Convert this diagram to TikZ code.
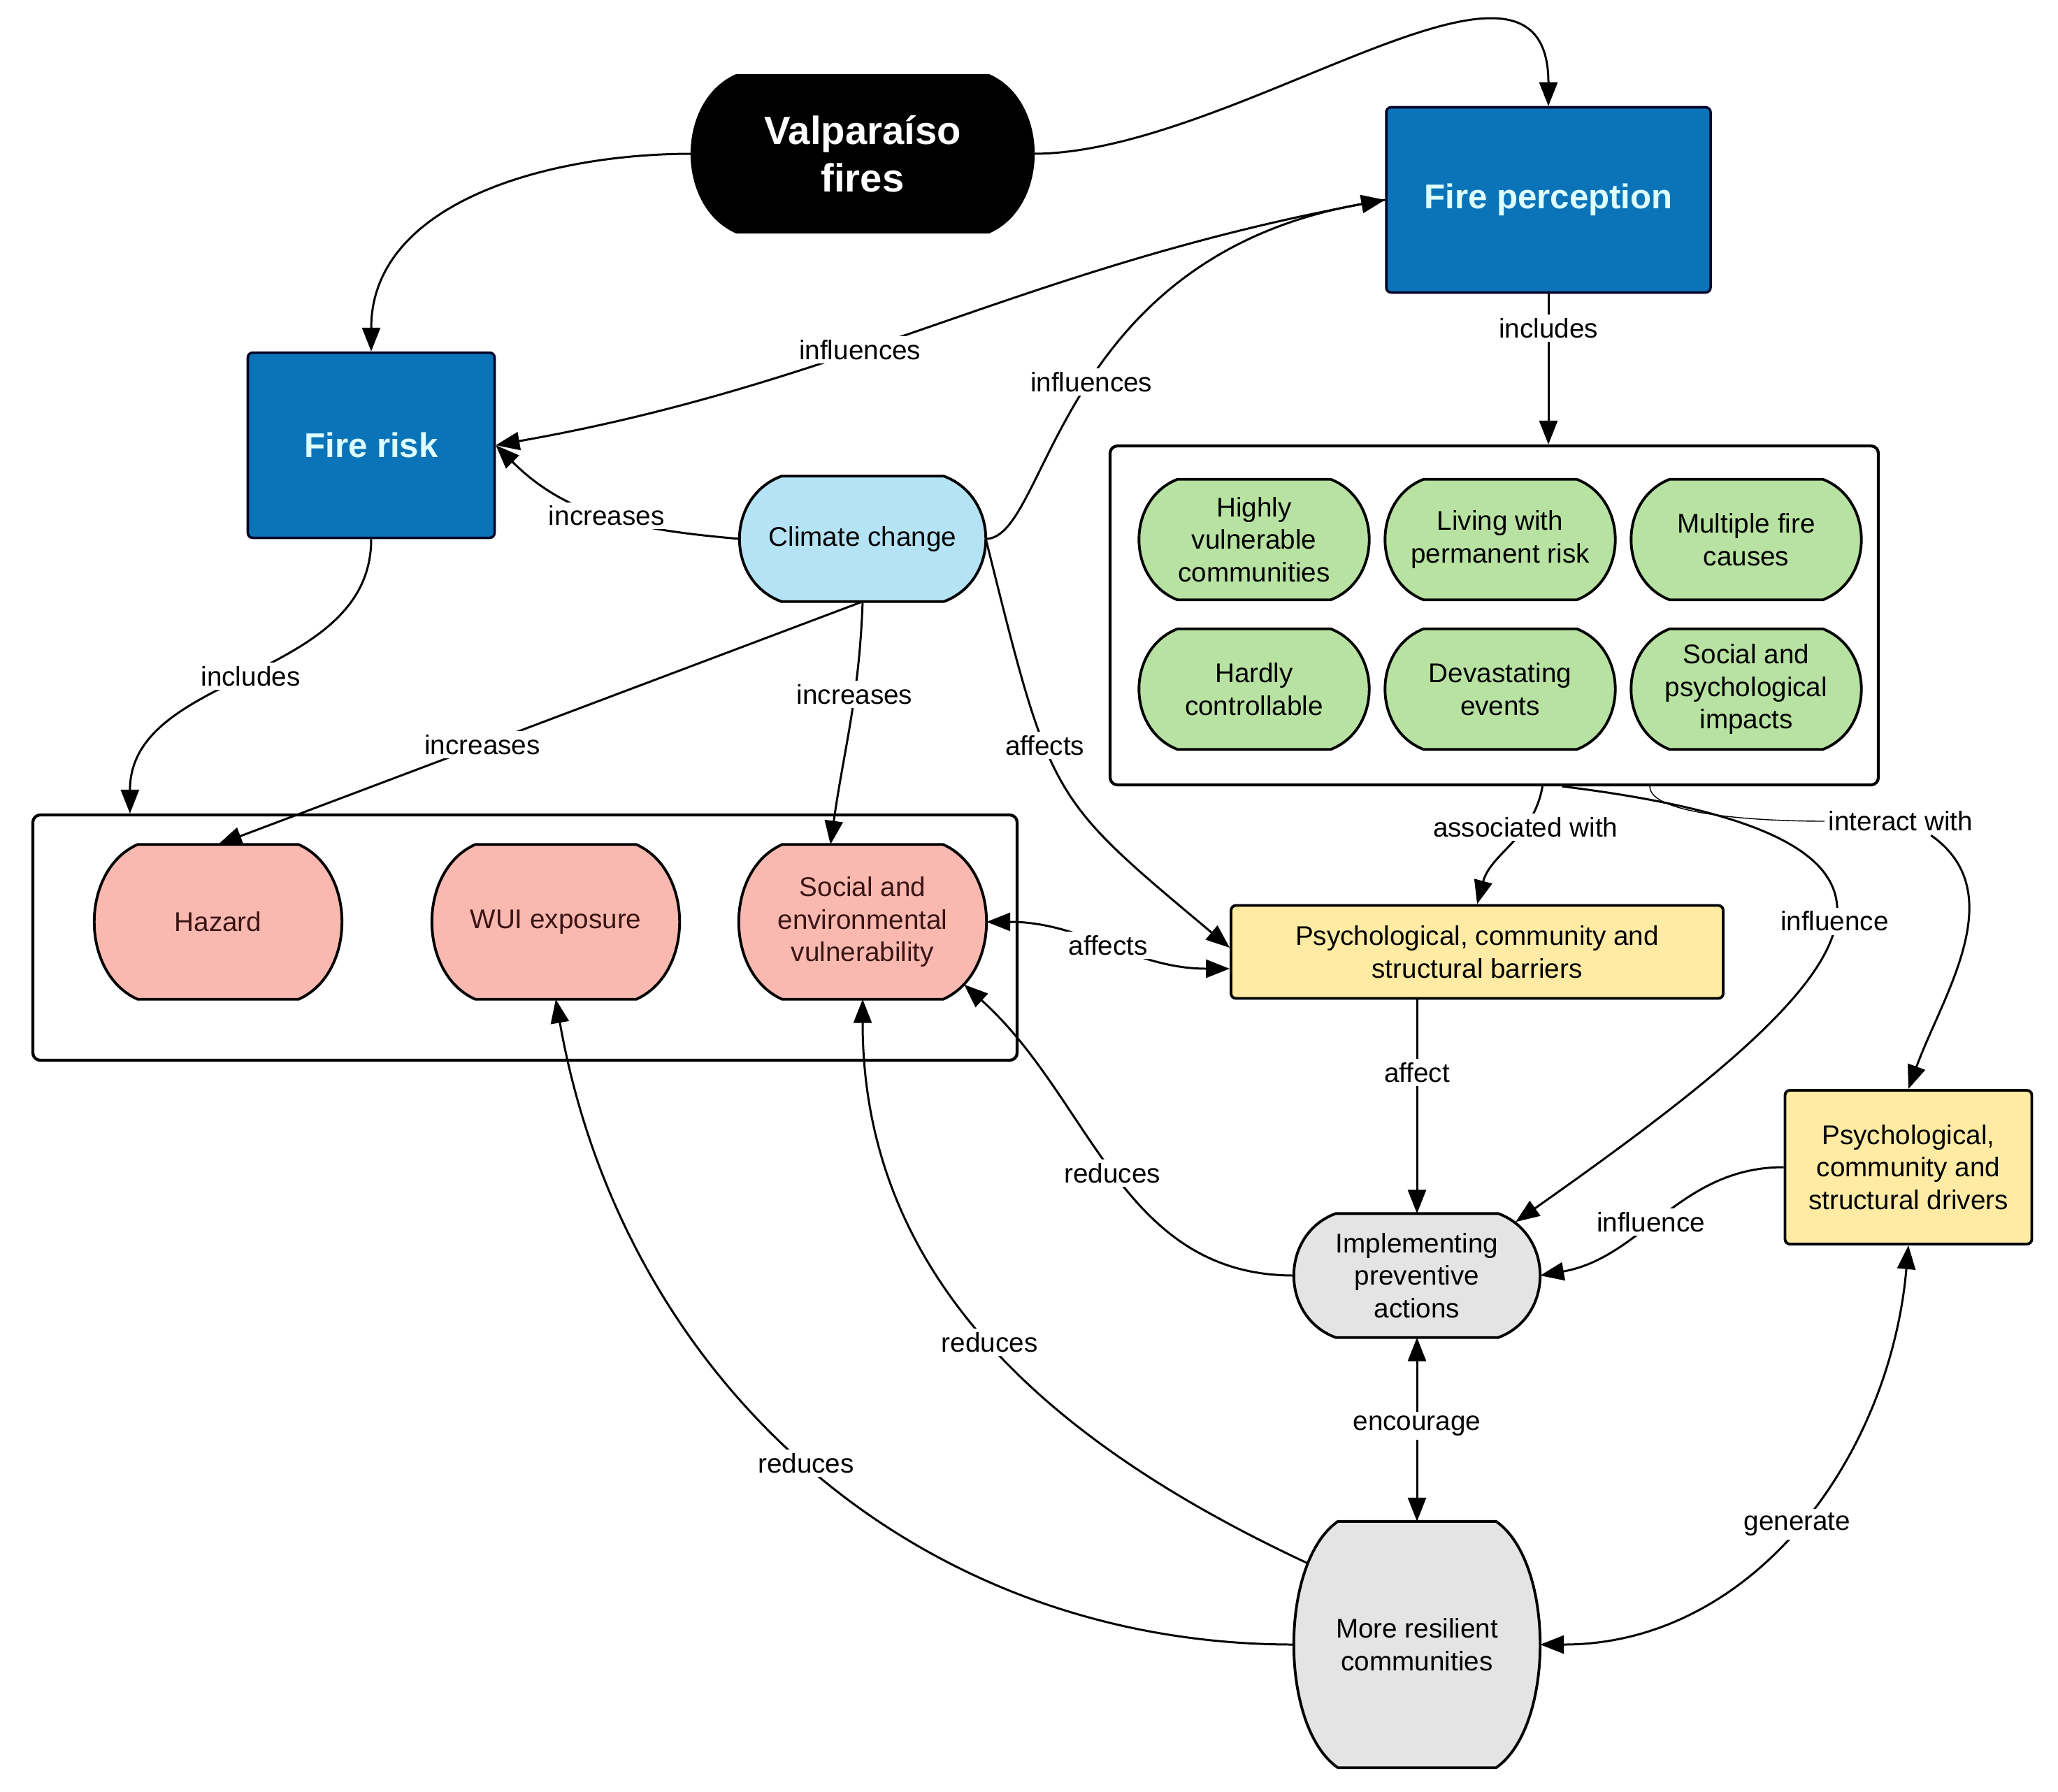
\documentclass[tikz,border=0pt]{standalone}
\usepackage{fontspec}
\setmainfont{Liberation Sans}
\usetikzlibrary{arrows.meta,positioning,calc,backgrounds}

\definecolor{percblue}{HTML}{0B74B8}
\definecolor{perctext}{HTML}{DDFFFF}
\definecolor{climateblue}{HTML}{B4E3F6}
\definecolor{traitgreen}{HTML}{B8E2A2}
\definecolor{factorred}{HTML}{FAB9B0}
\definecolor{factortext}{HTML}{3A1414}
\definecolor{barrieryellow}{HTML}{FFEBA3}
\definecolor{actiongray}{HTML}{E4E4E4}

\begin{document}
\begin{tikzpicture}[
  >={Triangle[length=3.4mm,width=2.6mm]},
  barrel/.style={rectangle, align=center, font=\fontsize{11}{13.3}\selectfont, inner sep=2pt},
  bluebox/.style={rectangle, draw=black!85!blue, line width=1pt, rounded corners=2pt, fill=percblue, text=perctext, font=\fontsize{14}{16}\selectfont\bfseries},
  yellowbox/.style={rectangle, draw, line width=1.1pt, rounded corners=2pt, fill=barrieryellow, align=center, font=\fontsize{11}{13.3}\selectfont},
  group/.style={rectangle, draw, line width=1.2pt, rounded corners=3pt},
  trait/.style={barrel, minimum width=3.28cm, minimum height=1.71cm},
  factor/.style={barrel, text=factortext, minimum width=3.53cm, minimum height=2.20cm},
  outline/.style={draw, line width=1.1pt, line join=round},
  arrow/.style={->, line width=0.85pt},
  twoway/.style={<->, line width=0.85pt},
  lbl/.style={fill=white, inner sep=1.5pt, font=\fontsize{11}{13.3}\selectfont},
]
\useasboundingbox (0,0) rectangle (29.44,-25.63);

% === TOP ===
\node[barrel, text=white, font=\fontsize{16}{19.5}\selectfont\bfseries, minimum width=4.87cm, minimum height=2.23cm] (valp) at (12.34,-2.20) {Valparaíso\\fires};
\node[bluebox, minimum width=4.64cm, minimum height=2.65cm] (perc) at (22.15,-2.86) {Fire perception};
\node[bluebox, minimum width=3.53cm, minimum height=2.65cm] (risk) at (5.31,-6.37) {Fire risk};
\node[barrel, minimum width=3.51cm, minimum height=1.78cm] (climate) at (12.34,-7.71) {Climate change};

% === PERCEPTION GROUP ===
\node[group, minimum width=10.99cm, minimum height=4.85cm] (greenbox) at (21.375,-8.805) {};
\node[trait] (g1) at (17.94,-7.72) {Highly\\vulnerable\\communities};
\node[trait] (g2) at (21.46,-7.72) {Living with\\permanent risk};
\node[trait] (g3) at (24.98,-7.72) {Multiple fire\\causes};
\node[trait] (g4) at (17.94,-9.86) {Hardly\\controllable};
\node[trait] (g5) at (21.46,-9.86) {Devastating\\events};
\node[trait] (g6) at (24.98,-9.86) {Social and\\psychological\\impacts};

% === RISK GROUP ===
\node[group, minimum width=14.08cm, minimum height=3.51cm] (riskbox) at (7.51,-13.415) {};
\node[factor] (hazard) at (3.12,-13.19) {Hazard};
\node[factor] (wui) at (7.95,-13.19) {WUI exposure};
\node[factor] (vuln) at (12.34,-13.19) {Social and\\environmental\\vulnerability};

% === BARRIERS, DRIVERS, ACTIONS ===
\node[yellowbox, minimum width=7.04cm, minimum height=1.33cm] (barriers) at (21.13,-13.62) {Psychological, community and\\structural barriers};
\node[yellowbox, minimum width=3.53cm, minimum height=2.20cm] (drivers) at (27.30,-16.70) {Psychological,\\community and\\structural drivers};
\node[barrel, minimum width=3.51cm, minimum height=1.76cm] (implement) at (20.27,-18.25) {Implementing\\preventive\\actions};
\node[barrel, minimum width=3.51cm, minimum height=3.51cm] (resilient) at (20.27,-23.53) {More resilient\\communities};
\node[lbl] (interact) at (27.19,-11.75) {interact with};

% barrel outlines behind the texts
\begin{scope}[on background layer]
\foreach \n/\col/\bulge in {valp/black/0.64, climate/climateblue/0.6,
    g1/traitgreen/0.55, g2/traitgreen/0.55, g3/traitgreen/0.55,
    g4/traitgreen/0.55, g5/traitgreen/0.55, g6/traitgreen/0.55,
    hazard/factorred/0.62, wui/factorred/0.62, vuln/factorred/0.62,
    implement/actiongray/0.6, resilient/actiongray/0.63}
  \path[outline, fill=\col]
    ($(\n.north west)+(\bulge,0)$) -- ($(\n.north east)-(\bulge,0)$)
    .. controls ($(\n.north east)!1/6!(\n.south east)+(\bulge/3,0)$) and ($(\n.north east)!5/6!(\n.south east)+(\bulge/3,0)$) .. ($(\n.south east)-(\bulge,0)$)
    -- ($(\n.south west)+(\bulge,0)$)
    .. controls ($(\n.north west)!5/6!(\n.south west)-(\bulge/3,0)$) and ($(\n.north west)!1/6!(\n.south west)-(\bulge/3,0)$) .. cycle;
\end{scope}

% === CONNECTORS ===
\draw[arrow] (valp.west) to[out=180, in=90] (risk.north);
\draw[arrow] (valp.east) to[out=0, in=90] (perc.north);
\draw[arrow] (perc.south) -- node[lbl, pos=0.23] {includes} (perc.south |- greenbox.north);
\draw[arrow] (perc.west) to[out=190, in=10] node[lbl, pos=0.6] {influences} (risk.east);
\draw[arrow] (climate.east) to[out=0, in=190, out distance=0.9cm, in distance=4.8cm] node[lbl, pos=0.52] {influences} (perc.west);
\draw[arrow] (climate.west) to[out=175, in=-45] node[lbl, pos=0.5] {increases} (risk.east);
\draw[arrow] (risk.south) to[out=-90, in=90] node[lbl] {includes} ([xshift=1.41cm]riskbox.north west);
\draw[arrow] (climate.south) -- node[lbl, pos=0.59] {increases} (hazard.north);
\draw[arrow] (climate.south) to[out=-92, in=82] node[lbl, pos=0.37] {increases} ([xshift=-4.6mm]vuln.north);
\draw[arrow] (climate.east) to[out=-76, in=140, out distance=3.88cm, in distance=3.38cm] node[lbl, pos=0.38] {affects} ([yshift=0.6mm]barriers.west);
\draw[twoway] (vuln.east) to[out=0, in=180] node[lbl] {affects} ([yshift=-2.4mm]barriers.west);
\draw[arrow] ([xshift=6.9mm]greenbox.south) to[out=-100, in=75] node[lbl, pos=0.32] {associated with} (barriers.north);
\draw[arrow] ([xshift=9.7mm]greenbox.south) .. controls +(6.26,-0.77) and +(4.9,3.45) .. node[lbl, pos=0.47] {influence} ([shift={(-0.35,-0.12)}]implement.north east);
\draw ([xshift=22.25mm]greenbox.south) to[out=-90, in=180, out distance=0.4cm] (interact.west);
\draw[arrow] (interact.-25) to[out=-35, in=70] (drivers.north);
\draw[arrow] (barriers.south -| implement.north) -- node[lbl, pos=0.34] {affect} (implement.north);
\draw[arrow] (drivers.west) to[out=180, in=10] node[lbl, pos=0.55] {influence} (implement.east);
\draw[arrow] (implement.west) to[out=180, in=-42] node[lbl] {reduces} ([shift={(-0.32,0.21)}]vuln.south east);
\draw[twoway] (implement.south) -- node[lbl, pos=0.48] {encourage} (resilient.north);
\draw[arrow] ([shift={(0.2,-0.6)}]resilient.north west) to[out=155, in=-90] node[lbl] {reduces} (vuln.south);
\draw[arrow] (resilient.west) to[out=180, in=-80] node[lbl] {reduces} (wui.south);
\draw[twoway] (resilient.east) to[out=0, in=-95] node[lbl] {generate} (drivers.south);
\end{tikzpicture}
\end{document}
